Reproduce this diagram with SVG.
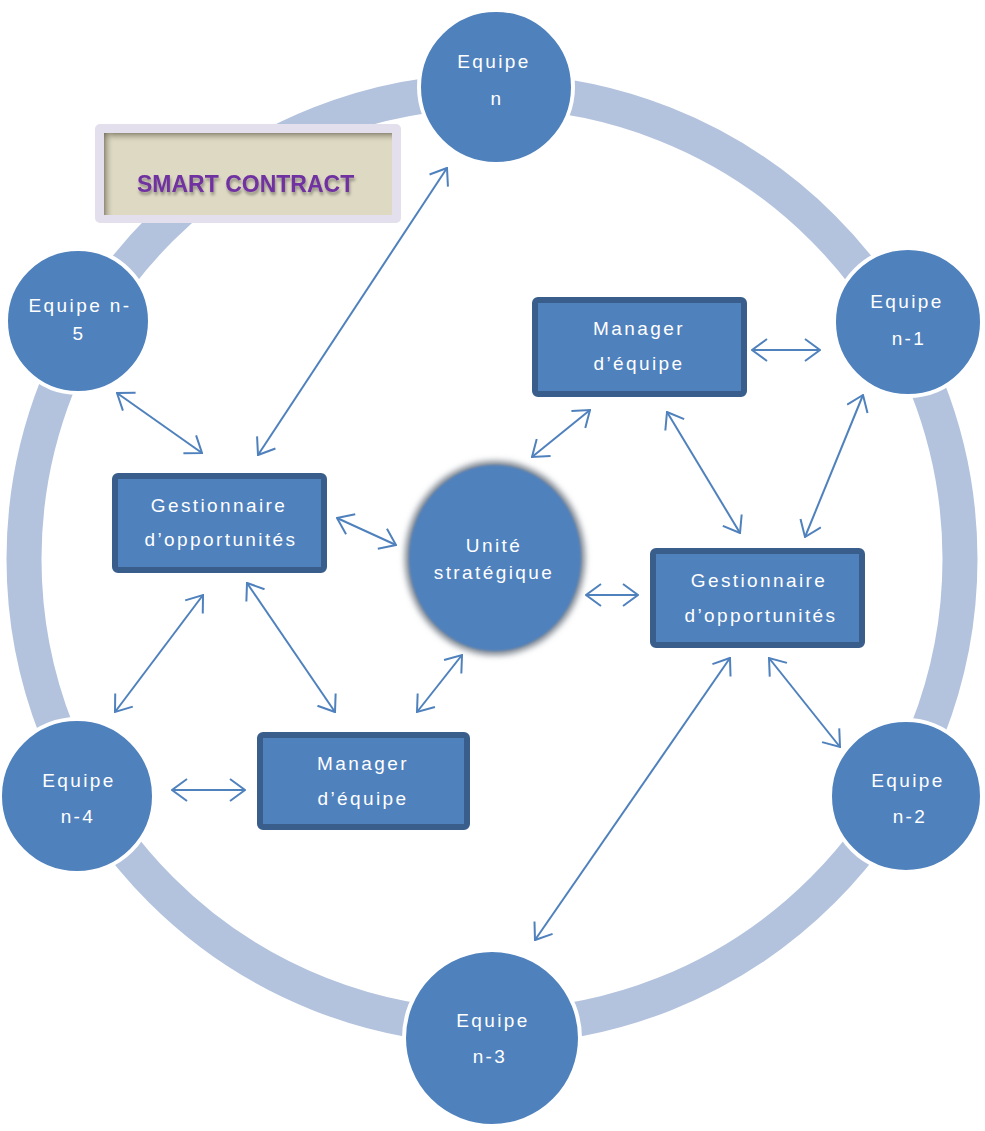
<svg xmlns="http://www.w3.org/2000/svg" width="985" height="1131" viewBox="0 0 985 1131">
<style>
.team{fill:#4f81bd;stroke:#ffffff;stroke-width:4}
.box{fill:#4f81bd;stroke:#395e8c;stroke-width:6}
.t{font-family:"Liberation Sans",Arial,sans-serif;font-size:19px;fill:#ffffff;text-anchor:middle;letter-spacing:2.4px}
.c{fill:none;stroke:#4f81bd;stroke-width:2}
</style>
<defs>
<marker id="ah" viewBox="0 0 17 24" refX="16" refY="12" markerWidth="17" markerHeight="24" markerUnits="userSpaceOnUse" orient="auto-start-reverse">
<path d="M1,1 L16,12 L1,23" fill="none" stroke="#4f81bd" stroke-width="2"/>
</marker>
<filter id="soft" x="-20%" y="-20%" width="140%" height="140%">
<feGaussianBlur stdDeviation="3"/>
</filter>
<filter id="soft2" x="-10%" y="-10%" width="120%" height="120%">
<feGaussianBlur stdDeviation="1.2"/>
</filter>
<filter id="ds" x="-10%" y="-30%" width="120%" height="180%">
<feDropShadow dx="1" dy="3" stdDeviation="1.5" flood-color="#000000" flood-opacity="0.35"/>
</filter>
<linearGradient id="topSh" x1="0" y1="0" x2="0" y2="1">
<stop offset="0" stop-color="#6b6752" stop-opacity="0.7"/>
<stop offset="1" stop-color="#ddd9c3" stop-opacity="0"/>
</linearGradient>
<linearGradient id="leftSh" x1="0" y1="0" x2="1" y2="0">
<stop offset="0" stop-color="#6b6752" stop-opacity="0.7"/>
<stop offset="1" stop-color="#ddd9c3" stop-opacity="0"/>
</linearGradient>
</defs>
<rect width="985" height="1131" fill="#ffffff"/>
<g id="ring">
<circle cx="492" cy="559" r="468" fill="none" stroke="#b3c3de" stroke-width="35"/>
</g>
<g id="smart-contract">
<rect x="95" y="124" width="306" height="99" rx="5" fill="#e4dfec"/>
<rect x="104" y="133" width="288" height="82" fill="#ddd9c3"/>
<rect x="104" y="133" width="288" height="10" fill="url(#topSh)"/>
<rect x="104" y="133" width="10" height="82" fill="url(#leftSh)"/>
<text x="137" y="192" font-family="Liberation Sans,Arial,sans-serif" font-size="23" font-weight="bold" fill="#7030a0" filter="url(#ds)">SMART CONTRACT</text>
</g>
<g id="equipe-n">
<circle class="team" cx="496" cy="87" r="77"/>
<text class="t" x="494" y="68">Equipe</text>
<text class="t" x="497" y="105">n</text>
</g>
<g id="equipe-n-1">
<circle class="team" cx="908" cy="322" r="74"/>
<text class="t" x="907" y="308">Equipe</text>
<text class="t" x="909" y="345">n-1</text>
</g>
<g id="equipe-n-2">
<circle class="team" cx="906" cy="796" r="76"/>
<text class="t" x="908" y="787">Equipe</text>
<text class="t" x="910" y="823">n-2</text>
</g>
<g id="equipe-n-3">
<circle class="team" cx="492" cy="1038" r="88"/>
<text class="t" x="493" y="1027">Equipe</text>
<text class="t" x="490" y="1063">n-3</text>
</g>
<g id="equipe-n-4">
<circle class="team" cx="77" cy="796" r="77"/>
<text class="t" x="79" y="787">Equipe</text>
<text class="t" x="78" y="823">n-4</text>
</g>
<g id="equipe-n-5">
<circle class="team" cx="78" cy="321" r="72"/>
<text class="t" x="80" y="312">Equipe n-</text>
<text class="t" x="79" y="340">5</text>
</g>
<g id="connectors">
<line class="c" x1="447" y1="168" x2="258" y2="455" marker-start="url(#ah)" marker-end="url(#ah)"/>
<line class="c" x1="117" y1="393" x2="202" y2="453" marker-start="url(#ah)" marker-end="url(#ah)"/>
<line class="c" x1="337" y1="518" x2="396" y2="545" marker-start="url(#ah)" marker-end="url(#ah)"/>
<line class="c" x1="203" y1="595" x2="115" y2="712" marker-start="url(#ah)" marker-end="url(#ah)"/>
<line class="c" x1="247" y1="583" x2="335" y2="712" marker-start="url(#ah)" marker-end="url(#ah)"/>
<line class="c" x1="462" y1="655" x2="417" y2="712" marker-start="url(#ah)" marker-end="url(#ah)"/>
<line class="c" x1="172" y1="790" x2="245" y2="790" marker-start="url(#ah)" marker-end="url(#ah)"/>
<line class="c" x1="532" y1="457" x2="590" y2="410" marker-start="url(#ah)" marker-end="url(#ah)"/>
<line class="c" x1="752" y1="350" x2="820" y2="350" marker-start="url(#ah)" marker-end="url(#ah)"/>
<line class="c" x1="667" y1="412" x2="740" y2="533" marker-start="url(#ah)" marker-end="url(#ah)"/>
<line class="c" x1="863" y1="395" x2="805" y2="537" marker-start="url(#ah)" marker-end="url(#ah)"/>
<line class="c" x1="586" y1="595" x2="638" y2="595" marker-start="url(#ah)" marker-end="url(#ah)"/>
<line class="c" x1="730" y1="658" x2="535" y2="940" marker-start="url(#ah)" marker-end="url(#ah)"/>
<line class="c" x1="769" y1="658" x2="840" y2="747" marker-start="url(#ah)" marker-end="url(#ah)"/>
</g>
<g id="unite-strategique">
<ellipse cx="495" cy="558" rx="90" ry="97" fill="#7d8590" filter="url(#soft)"/>
<ellipse cx="495" cy="558" rx="86" ry="93" fill="#4f81bd" filter="url(#soft2)"/>
<text class="t" x="494" y="552">Unité</text>
<text class="t" x="494" y="579">stratégique</text>
</g>
<g id="manager-top">
<rect class="box" x="535" y="300" width="209" height="94" rx="3"/>
<text class="t" x="639" y="335">Manager</text>
<text class="t" x="639" y="370">d’équipe</text>
</g>
<g id="gestionnaire-left">
<rect class="box" x="115" y="476" width="209" height="94" rx="3"/>
<text class="t" x="219" y="512">Gestionnaire</text>
<text class="t" x="221" y="546">d’opportunités</text>
</g>
<g id="gestionnaire-right">
<rect class="box" x="653" y="551" width="209" height="94" rx="3"/>
<text class="t" x="759" y="587">Gestionnaire</text>
<text class="t" x="761" y="622">d’opportunités</text>
</g>
<g id="manager-bottom">
<rect class="box" x="260" y="735" width="207" height="92" rx="3"/>
<text class="t" x="363" y="770">Manager</text>
<text class="t" x="363" y="805">d’équipe</text>
</g>
</svg>
